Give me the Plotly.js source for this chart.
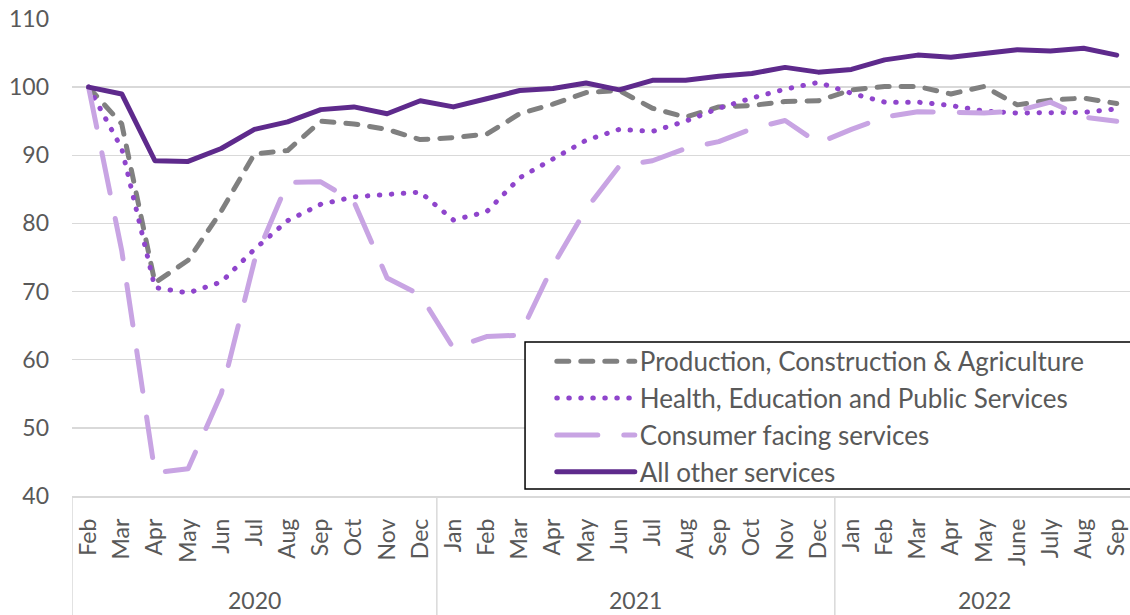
<!DOCTYPE html>
<html>
<head>
<meta charset="utf-8">
<script src="https://cdn.plot.ly/plotly-3.0.1.min.js"></script>
<style>
  html, body { margin: 0; padding: 0; background: #fff; }
  #chart { width: 1130px; height: 615px; }
</style>
</head>
<body>
<div id="chart"></div>
<script>
const months = ["Feb","Mar","Apr","May","Jun","Jul","Aug","Sep","Oct","Nov","Dec",
                "Jan","Feb","Mar","Apr","May","Jun","Jul","Aug","Sep","Oct","Nov","Dec",
                "Jan","Feb","Mar","Apr","May","June","July","Aug","Sep"];
const years = ["2020", "2021", "2022"];
const yearStartIdx = [0, 11, 23];
const yearEndIdx = [10, 22, 31];

const production = [100, 94.6, 71.3, 74.6, 81.8, 90.2, 90.7, 95.0, 94.6, 93.8, 92.3,
                     92.6, 93.1, 96.1, 97.5, 99.2, 99.5, 96.9, 95.6, 97.1, 97.3, 97.9, 98.0,
                     99.6, 100.1, 100.1, 99.0, 100.1, 97.4, 98.1, 98.4, 97.6];
const health = [100, 91.0, 70.6, 69.8, 71.4, 76.2, 80.4, 82.8, 83.9, 84.2, 84.6,
                80.5, 81.7, 86.7, 89.4, 92.2, 93.8, 93.5, 95.0, 96.9, 98.4, 99.7, 100.7,
                99.1, 97.8, 97.8, 97.3, 96.5, 96.2, 96.2, 96.3, 96.8];
const consumer = [100, 76.0, 43.4, 44.0, 55.0, 74.5, 86.0, 86.1, 83.2, 72.0, 69.5,
                  61.7, 63.4, 63.6, 73.8, 82.1, 88.4, 89.2, 91.0, 92.0, 93.9, 95.1, 91.8,
                  93.8, 95.6, 96.4, 96.3, 96.2, 96.5, 97.8, 95.6, 95.0];
const otherServices = [100, 99.0, 89.2, 89.1, 91.0, 93.8, 94.9, 96.7, 97.1, 96.1, 98.0,
                       97.1, 98.3, 99.5, 99.8, 100.6, 99.6, 101.0, 101.0, 101.6, 102.0, 102.9, 102.2,
                       102.6, 104.0, 104.7, 104.4, 105.0, 105.5, 105.3, 105.7, 104.7];

const seriesNames = ["Production, Construction & Agriculture",
                     "Health, Education and Public Services",
                     "Consumer facing services",
                     "All other services"];

const idx = months.map((m, i) => i);
const FONT = "Lato, 'Open Sans', sans-serif";
const TXT = "#595959";
const FS_TICK = 23;
const FS_LEG = 26;

const traces = [
  { x: idx, y: production, name: seriesNames[0], mode: "lines",
    line: { color: "#808080", width: 5, dash: "12px,12px" } },
  { x: idx, y: health, name: seriesNames[1], mode: "lines",
    line: { color: "#8f45cc", width: 5, dash: "0.5px,11.5px" } },
  { x: idx, y: consumer, name: seriesNames[2], mode: "lines",
    line: { color: "#c8a4e3", width: 5, dash: "41px,26px" } },
  { x: idx, y: otherServices, name: seriesNames[3], mode: "lines",
    line: { color: "#5e2a8c", width: 5 } }
];

const shapes = [];
const dividers = [-0.5, 10.5, 22.5];
dividers.forEach(d => shapes.push({
  type: "line", xref: "x", yref: "paper", x0: d, x1: d, y0: 0, y1: -0.26,
  line: { color: "#d9d9d9", width: 1.5 }
}));
// legend frame
shapes.push({
  type: "rect", xref: "paper", yref: "paper", layer: "above",
  x0: 0.4282, x1: 1.0009, y0: 0.0147, y1: 0.3229,
  fillcolor: "#ffffff", line: { color: "#000000", width: 1.5 }
});

const annotations = years.map((yr, k) => ({
  text: yr, xref: "x", yref: "paper",
  x: (yearStartIdx[k] + yearEndIdx[k]) / 2, y: -0.218,
  showarrow: false, xanchor: "center", yanchor: "middle",
  font: { family: FONT, size: FS_TICK, color: TXT }
}));

const layout = {
  width: 1130, height: 615,
  margin: { l: 72, r: 0, t: 19, b: 119 },
  paper_bgcolor: "#fff", plot_bgcolor: "#fff",
  font: { family: FONT, size: FS_TICK, color: TXT },
  showlegend: true,
  legend: {
    x: 0.4535, y: 0.3314, xanchor: "left", yanchor: "top",
    borderwidth: 0, bgcolor: "rgba(0,0,0,0)",
    itemwidth: 78,
    font: { family: FONT, size: FS_LEG, color: TXT },
    tracegroupgap: 0
  },
  xaxis: {
    type: "linear", range: [-0.5, 31.4],
    tickmode: "array", tickvals: idx, ticktext: months,
    tickangle: -90, ticks: "", showgrid: false, zeroline: false,
    showline: true, linecolor: "#d9d9d9", linewidth: 1.5,
    ticklabeloverflow: "allow", ticklabelstandoff: 12,
    tickfont: { family: FONT, size: FS_TICK, color: TXT },
    fixedrange: true
  },
  yaxis: {
    range: [40, 110], dtick: 10, tick0: 40,
    showgrid: true, gridcolor: "#d9d9d9", gridwidth: 1.5,
    zeroline: false, showline: false, ticks: "",
    ticklabelstandoff: 22,
    tickfont: { family: FONT, size: FS_TICK, color: TXT },
    fixedrange: true
  },
  shapes: shapes,
  annotations: annotations
};

function roundCaps() {
  document.querySelectorAll("#chart .js-line").forEach(p => {
    p.style.strokeLinecap = "round";
    p.style.strokeLinejoin = "round";
  });
}

Plotly.newPlot("chart", traces, layout, { displayModeBar: false, staticPlot: true })
  .then(gd => { roundCaps(); gd.on("plotly_afterplot", roundCaps); });
</script>
</body>
</html>
